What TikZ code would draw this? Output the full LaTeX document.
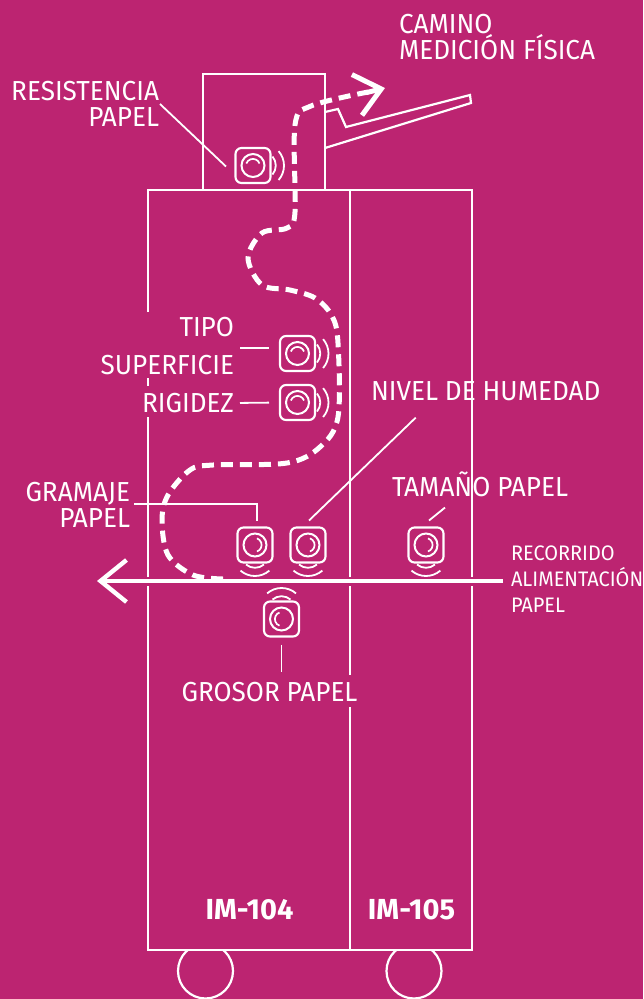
\documentclass[tikz,border=0pt]{standalone}
\usepackage{fontspec}
\setmainfont{Fira Sans}[FakeStretch=0.95]
\newfontfamily\modelfont{Fira Sans}
\usetikzlibrary{arrows.meta}
\definecolor{magentabg}{RGB}{188,36,113}
\tikzset{
  wall/.style={draw=white,line width=2.2pt},
  leadline/.style={draw=white,line width=1.8pt},
  feedpath/.style={draw=white,line width=5pt},
  sensorbox/.style={draw=white,line width=2.1pt,rounded corners=6pt,minimum size=35pt,inner sep=0pt,outer sep=0pt},
  caption/.style={text=white,font=\fontsize{27.5}{26}\selectfont,inner sep=0pt,outer sep=0pt},
  smallcaption/.style={text=white,font=\fontsize{21}{26}\selectfont,inner sep=0pt,outer sep=0pt,align=left},
  modelname/.style={text=white,font=\modelfont\bfseries\fontsize{29}{29}\selectfont,inner sep=0pt},
  sensorface/.pic={
    \draw[wall,line width=2pt] (0pt,0pt) circle (11.5pt);
    \draw[wall,line width=1.7pt] (6.5pt,2pt) arc[start angle=20,end angle=160,radius=7pt];
    \draw[wall,line width=1.8pt] (19.5pt,-9pt) arc[start angle=-40,end angle=40,radius=14pt];
    \draw[wall,line width=1.8pt] (25.6pt,-14.5pt) arc[start angle=-41,end angle=41,radius=22pt];
  }
}
\begin{document}
\begin{tikzpicture}[x=1pt,y=-1pt]
    \fill[magentabg] (0,0) rectangle (643,999);
    \useasboundingbox (0,0) rectangle (643,999);
    % machine body
    \draw[wall] (148,312) -- (148,190) -- (472,190) -- (472,577);
    \draw[wall] (472,586) -- (472,950) -- (148,950) -- (148,586);
    \draw[wall] (148,577) -- (148,417);
    \draw[wall] (148,378) -- (148,386);
    \draw[wall] (350,190) -- (350,577);
    \draw[wall] (350,586) -- (350,675);
    \draw[wall] (350,707) -- (350,950);
    \draw[wall] (203,190) -- (203,74) -- (325,74) -- (325,190);
    \draw[wall] (325,112) -- (338,109) -- (346,127) -- (470,95) -- (471,103) -- (325,148);
    \begin{scope}
      \clip (0,950) rectangle (643,999);
      \draw[wall] (205.5,971) circle (27.5pt);
      \draw[wall] (414,971) circle (27.5pt);
    \end{scope}
    % sensors
    \node[sensorbox] (resistencia) at (253,165.5) {};
    \node[sensorbox] (tipo) at (297.5,353.5) {};
    \node[sensorbox] (rigidez) at (297.5,402.5) {};
    \node[sensorbox] (gramaje) at (255,545) {};
    \node[sensorbox] (humedad) at (308,545) {};
    \node[sensorbox] (tamano) at (426,545) {};
    \node[sensorbox] (grosor) at (281.5,619) {};
    \path (resistencia) pic {sensorface};
    \path (tipo) pic {sensorface};
    \path (rigidez) pic {sensorface};
    \path (gramaje) pic[rotate=-90] {sensorface};
    \path (humedad) pic[rotate=-90] {sensorface};
    \path (tamano) pic[rotate=-90] {sensorface};
    \path (grosor) pic[rotate=90] {sensorface};
    % labels
    \node[caption,align=left,anchor=west] (camino) at (399,37) {CAMINO\\MEDICIÓN FÍSICA};
    \node[caption,align=right,anchor=east] (resistencialabel) at (159,104) {RESISTENCIA\\PAPEL};
    \node[caption,align=right,anchor=east,font=\fontsize{27.5}{38}\selectfont] (tipolabel) at (234,346) {TIPO\\SUPERFICIE};
    \node[caption,anchor=east] (rigidezlabel) at (234,403) {RIGIDEZ};
    \node[caption,anchor=west] (humedadlabel) at (371,391) {NIVEL DE HUMEDAD};
    \node[caption,anchor=west] (tamanolabel) at (392,484) {TAMAÑO PAPEL};
    \node[caption,align=right,anchor=east] (gramajelabel) at (130,505) {GRAMAJE\\PAPEL};
    \node[caption,anchor=center] (grosorlabel) at (269.5,692) {GROSOR PAPEL};
    \node[smallcaption,anchor=west] (recorrido) at (511,579) {RECORRIDO\\ALIMENTACIÓN\\PAPEL};
    \node[modelname] (im104) at (249.5,910) {IM-104};
    \node[modelname] (im105) at (411.5,910) {IM-105};
    % lead lines
    \draw[leadline] (resistencialabel.east) ++(1,0) -- ([shift={(-27,1)}]resistencia.center);
    \draw[leadline,shorten <=6pt,shorten >=11pt] (tipolabel.east) ++(0,2) -- ([shift={(0,-5.5)}]tipo.west);
    \draw[leadline,shorten <=6pt,shorten >=11pt] (rigidezlabel.east) -- (rigidez.west);
    \draw[leadline] (gramajelabel.east) ++(4,-1) -| ([shift={(2,-7)}]gramaje.north);
    \draw[leadline] (humedadlabel.south) ++(-70,17) -- ([shift={(1,-7)}]humedad.north);
    \draw[leadline] (tamanolabel.south) ++(-35,11) -- ([shift={(3,-7)}]tamano.north);
    \draw[leadline,shorten <=8pt,shorten >=10pt] (grosor.south) -- (grosor.south |- grosorlabel.north);
    % paper paths
    \coordinate (feedend) at (97,581);
    \coordinate (feedstart) at (503,581);
    \draw[feedpath,line width=4.4pt,-{Straight Barb[length=26pt,width=42pt]}] (feedstart) -- (feedend);
    \coordinate (pathend) at (385,88);
    \draw[feedpath,dash pattern=on 12pt off 7pt] plot[smooth,tension=0.55] coordinates {(223,579) (193,575) (168,555) (162,520) (168,495) (190,470) (213,465) (287,463) (320,447) (338,417) (338,343) (332,316) (315,298) (290,290) (262,285) (248,258) (262,233) (287,228) (295,212) (295,125) (311,106) (368,92)};
    \draw[feedpath,-{Straight Barb[length=25pt,width=42pt]}] (366,92.7) -- (pathend);
\end{tikzpicture}
\end{document}
